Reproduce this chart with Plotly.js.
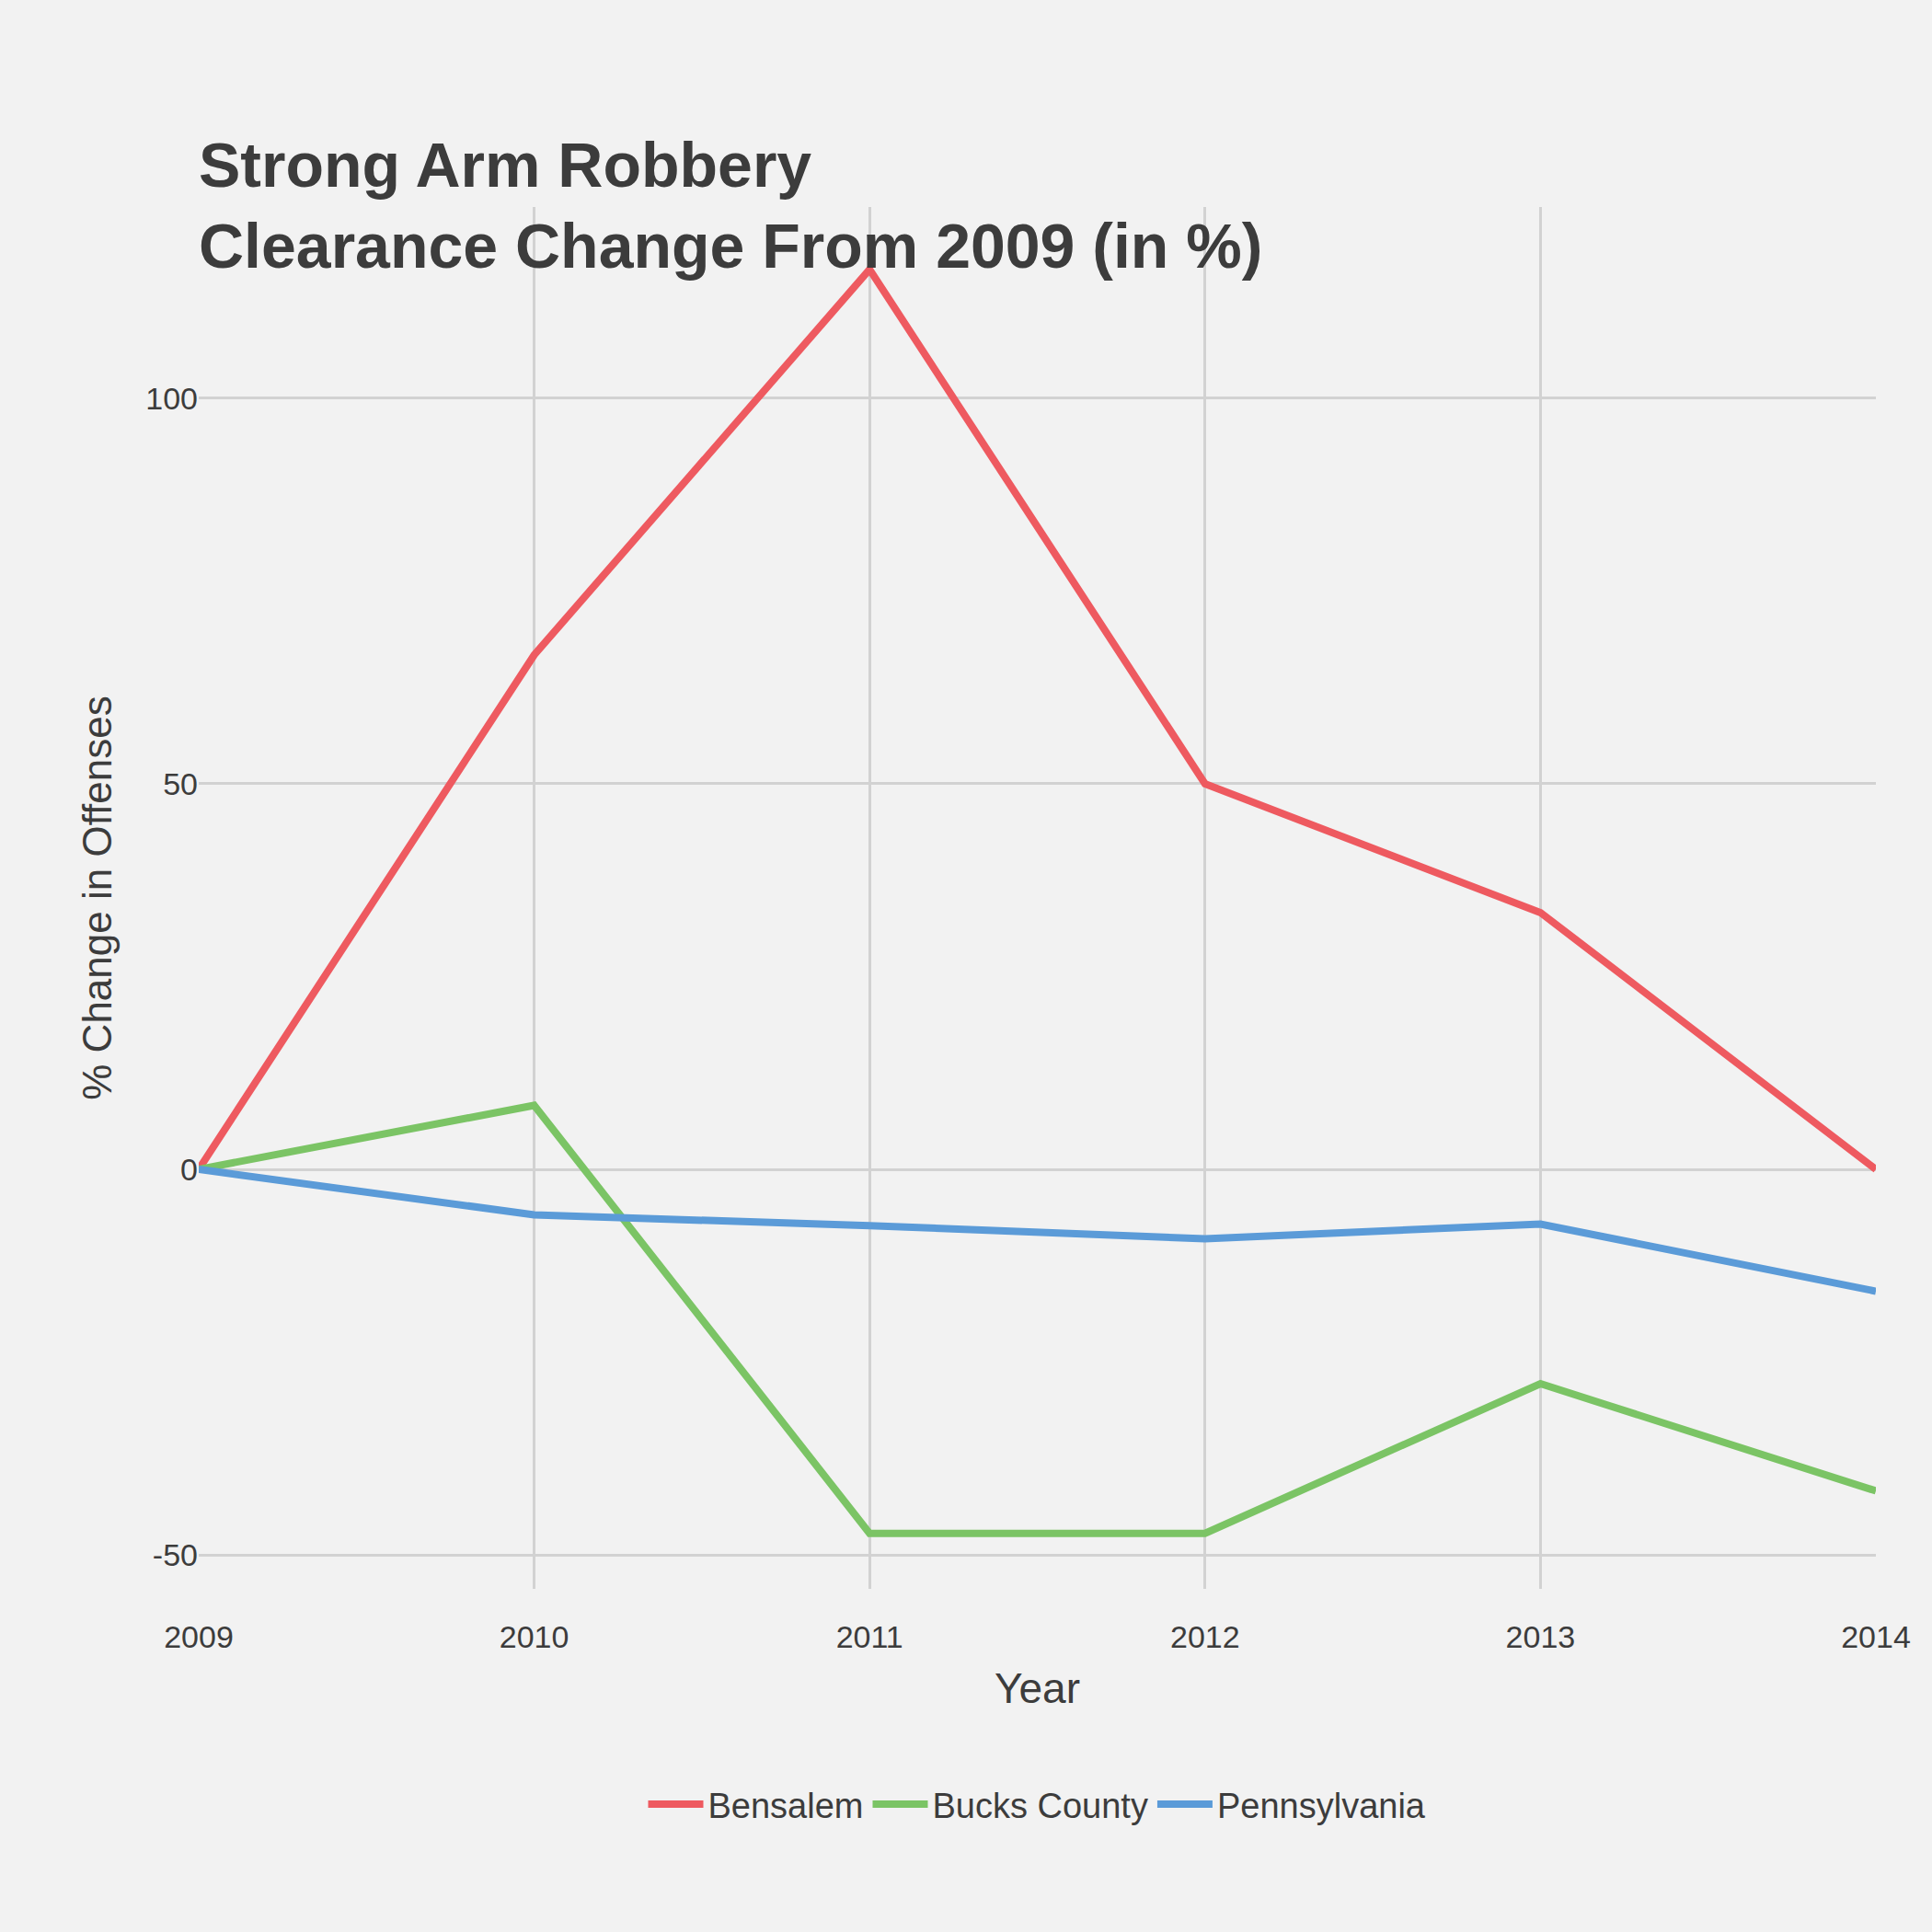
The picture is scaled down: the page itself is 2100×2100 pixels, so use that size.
<!DOCTYPE html>
<html><head><script src="https://cdn.plot.ly/plotly-3.0.1.min.js"></script>
<style>body{margin:0;background:#f2f2f2}</style></head><body>
<div id="c" style="width:2100px;height:2100px"></div>
<script>
const years = [2009, 2010, 2011, 2012, 2013, 2014];
const bensalem = [0, 66.7, 116.7, 50, 33.3, 0];
const bucks = [0, 8.3, -47.2, -47.2, -27.8, -41.7];
const penn = [0, -5.9, -7.3, -9.0, -7.1, -15.8];
const names = ["Bensalem", "Bucks County", "Pennsylvania"];
const colors = ["#EE5A60", "#7BC465", "#5B9BD8"];
const series = [bensalem, bucks, penn];
const traces = series.map((s, i) => ({x: years, y: s, name: names[i], type: 'scatter', mode: 'lines',
  line: {color: colors[i], width: 8}}));
Plotly.newPlot('c', traces, {
  width: 2100, height: 2100,
  paper_bgcolor: '#f2f2f2', plot_bgcolor: '#f2f2f2',
  font: {family: 'Arial, Liberation Sans, sans-serif', color: '#3c3c3c'},
  margin: {l: 216, r: 61, t: 225, b: 373},
  title: {text: '<b>Strong Arm Robbery<br>Clearance Change From 2009 (in %)</b>', x: 216/2100, xanchor: 'left',
    yref: 'paper', y: 1, yanchor: 'bottom', pad: {b: 22}, font: {size: 68, color: '#3c3c3c'}},
  xaxis: {range: [2009, 2014], tickvals: years, ticktext: years.map(String), showgrid: true, gridcolor: '#d2d2d2', gridwidth: 2.5,
    zeroline: false, showline: false, tickfont: {size: 34}, ticks: 'outside', ticklen: 22, tickcolor: 'rgba(0,0,0,0)',
    title: {text: 'Year', font: {size: 46}, standoff: 22}},
  yaxis: {range: [-54.4, 124.8], tickvals: [-50, 0, 50, 100], ticktext: ['-50', '0', '50', '100'], showgrid: true, gridcolor: '#d2d2d2', gridwidth: 2.5,
    zeroline: false, tickfont: {size: 34}, ticks: '',
    title: {text: '% Change in Offenses', font: {size: 44}, standoff: 22}},
  legend: {orientation: 'h', x: 0.5, xanchor: 'center', y: -0.135, yanchor: 'top', font: {size: 38}, bgcolor: 'rgba(0,0,0,0)', itemwidth: 60},
  showlegend: true
}, {displayModeBar: false});
</script></body></html>
